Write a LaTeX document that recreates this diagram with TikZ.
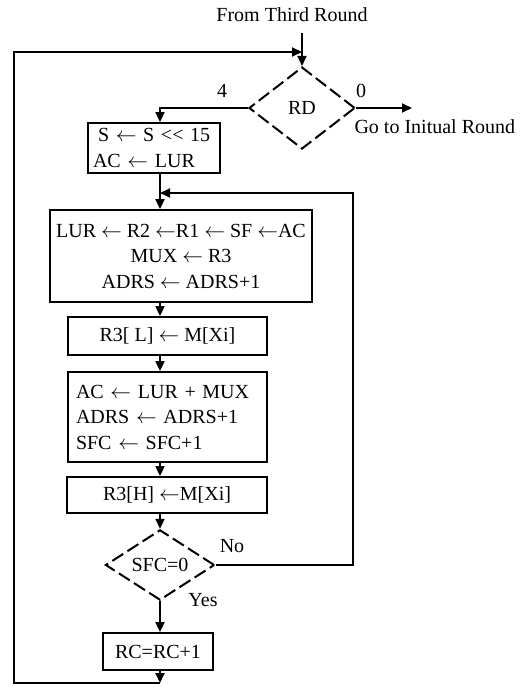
\documentclass[tikz,border=0pt]{standalone}
\usepackage{fontspec}
\setmainfont{Liberation Serif}
\usetikzlibrary{shapes.geometric,arrows.meta}
\newcommand{\flowfont}{\fontsize{20}{25.5}\selectfont}
\newcommand{\lar}{$\leftarrow$}

\begin{document}
\begin{tikzpicture}[x=1pt,y=-1pt,font=\flowfont,
  opbox/.style={draw,line width=1.8pt,inner sep=0pt,align=center},
  testdiam/.style={diamond,draw,line width=2pt,dash pattern=on 13pt off 5pt,inner sep=0pt},
  flowline/.style={line width=1.8pt,-{Triangle[length=10pt,width=9pt]}}]
  \useasboundingbox (0,0) rectangle (520,687);
  \coordinate (sp) at (160,0);
  % round test
  \node (from) at (292,15) {From Third Round};
  \coordinate (entry) at (302,33);
  \coordinate (merge) at (302,52);
  \node[testdiam,minimum width=106pt,minimum height=82pt] (rd) at (302,108) {RD};
  \coordinate (go) at (412,108);
  \node (four) at (222,91) {4};
  \node (zero) at (361,91) {0};
  \node[anchor=west] (goto) at (351,127) {Go to Initual Round};
  % operations
  \node[opbox,align=left,text width=122pt,inner xsep=5pt,minimum height=50pt] (b1) at (154,148)
    {\hspace{5pt}S \lar{} S <{}< 15\\AC \lar{} LUR};
  \node[opbox,minimum width=262pt,minimum height=92pt] (b2) at (181,256)
    {LUR \lar{} R2 \lar R1 \lar{} SF \lar AC\\MUX \lar{} R3\\ADRS \lar{} ADRS+1};
  \node[opbox,minimum width=199pt,minimum height=38pt] (b3) at (167.5,336) {R3[ L] \lar{} M[Xi]};
  \node[opbox,align=left,text width=183pt,inner xsep=8pt,minimum height=90pt] (b4) at (167.5,417)
    {AC \lar{} LUR + MUX\\ADRS \lar{} ADRS+1\\SFC \lar{} SFC+1};
  \node[opbox,minimum width=200pt,minimum height=36pt] (b5) at (167,495) {R3[H] \lar M[Xi]};
  \node[testdiam,minimum width=109pt,minimum height=70pt] (sfc) at (160,565) {SFC=0};
  \node (no) at (232,546) {No};
  \node (yes) at (203,600) {Yes};
  \node[opbox,minimum width=110pt,minimum height=37pt] (b6) at (158,651.5) {RC=RC+1};
  \coordinate (back) at (160,683);
  \coordinate (corner) at (14,683);
  \coordinate (rise) at (353,193);
  \coordinate (rejoin) at (160,193);
  % connectors
  \draw[flowline] (entry) -- (rd.north);
  \draw[flowline] (rd.west) -| (b1.north -| sp);
  \draw[flowline] (rd.east) -- (go);
  \draw[flowline] (b1.south -| sp) -- (b2.north -| sp);
  \draw[flowline] (b2.south -| sp) -- (b3.north -| sp);
  \draw[flowline] (b3.south -| sp) -- (b4.north -| sp);
  \draw[flowline] (b4.south -| sp) -- (b5.north -| sp);
  \draw[flowline] (b5.south -| sp) -- (sfc.north);
  \draw[flowline] (sfc.south) -- (b6.north -| sp);
  \draw[flowline] (b6.south -| sp) -- (back);
  \draw[flowline] (sfc.east) -| (rise) -- (rejoin);
  \draw[flowline] (back) -- (corner) |- (merge);
\end{tikzpicture}
\end{document}
